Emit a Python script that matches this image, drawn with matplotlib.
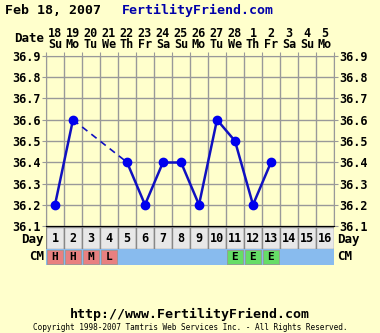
import numpy as np
import matplotlib
matplotlib.use("Agg")
import matplotlib.pyplot as plt

dates = ["18", "19", "20", "21", "22", "23", "24", "25", "26", "27", "28", "1", "2", "3", "4", "5"]
weekdays = ["Su", "Mo", "Tu", "We", "Th", "Fr", "Sa", "Su", "Mo", "Tu", "We", "Th", "Fr", "Sa", "Su", "Mo"]
days = list(range(1, 17))
temps = [36.2, 36.6, None, None, 36.4, 36.2, 36.4, 36.4, 36.2, 36.6, 36.5, 36.2, 36.4, None, None, None]
cm = ["H", "H", "M", "L", "", "", "", "", "", "", "E", "E", "E", "", "", ""]
yticks = [36.1, 36.2, 36.3, 36.4, 36.5, 36.6, 36.7, 36.8, 36.9]

bg = "#FFFFCC"
line_c = "#1010C0"
cm_colors = {"H": "#E88080", "M": "#E88080", "L": "#E88080", "E": "#66DD66", "": "#88BBEE"}
font = "DejaVu Sans Mono"

W, H = 380, 333
fig = plt.figure(figsize=(W / 100, H / 100), dpi=100, facecolor=bg)

def box(x0, y0, x1, y1):
    # pixel box -> figure coords
    return [x0 / W, 1 - y1 / H, (x1 - x0) / W, (y1 - y0) / H]

x0, x1 = 46, 334
ax = fig.add_axes(box(x0, 56, x1, 226))
ax.set_facecolor(bg)
ax.set_xlim(0.5, 16.5)
ax.set_ylim(36.1, 36.9)
ax.set_xticks(np.arange(0.5, 16.6, 1))
ax.set_yticks(yticks)
ax.grid(True, color="#999999", lw=1)
ax.tick_params(length=3, color="#999999", labelleft=True, labelright=True,
               left=True, right=True, labelbottom=False, top=True, bottom=False,
               labelsize=8.5, pad=1)
ax.set_yticklabels(["%.1f" % v for v in yticks], fontfamily=font, fontweight="bold")
for s in ax.spines.values():
    s.set_color("#999999")
ax.spines["bottom"].set_color("black")

# solid segments between consecutive readings, dashed over gaps
pts = [(d, t) for d, t in zip(days, temps) if t is not None]
for (da, ta), (db, tb) in zip(pts[:-1], pts[1:]):
    ls = "-" if db - da == 1 else (0, (4, 3))
    ax.plot([da, db], [ta, tb], color=line_c, lw=1.8 if ls == "-" else 1.2, linestyle=ls, zorder=3)
ax.plot([p[0] for p in pts], [p[1] for p in pts], "o", color="#0000EE", ms=6, zorder=4)

# date / weekday header
for d, dt, wd in zip(days, dates, weekdays):
    ax.text(d, 36.9 + 0.108, dt, ha="center", va="center", fontsize=8.5, fontfamily=font,
            fontweight="bold", clip_on=False)
    ax.text(d, 36.9 + 0.052, wd, ha="center", va="center", fontsize=8.5, fontfamily=font,
            fontweight="bold", clip_on=False)
fig.text(44 / W, 1 - 39 / H, "Date", ha="right", va="center", fontsize=9,
         fontfamily=font, fontweight="bold")

# day row
axd = fig.add_axes(box(x0, 227, x1, 249))
axd.set_xlim(0.5, 16.5)
axd.set_ylim(0, 1)
axd.bar(days, [1] * 16, width=1, color="#E8E8E8", edgecolor="#888888", lw=1)
for d in days:
    axd.text(d, 0.5, str(d), ha="center", va="center", fontsize=8.5, fontfamily=font, fontweight="bold")
axd.axis("off")

# CM row
axc = fig.add_axes(box(x0, 249, x1, 265))
axc.set_xlim(0.5, 16.5)
axc.set_ylim(0, 1)
axc.bar(days, [1] * 16, width=1, color=[cm_colors[c] for c in cm], edgecolor="#88BBEE", lw=1)
for d, c in zip(days, cm):
    if c:
        axc.bar(d, 0.84, bottom=0.08, width=0.84, color=cm_colors[c], edgecolor="#999999", lw=0.6)
        axc.text(d, 0.5, c, ha="center", va="center", fontsize=8, fontfamily=font, fontweight="bold")
axc.axis("off")

for label, y in [("Day", 239), ("CM", 257)]:
    fig.text(44 / W, 1 - y / H, label, ha="right", va="center", fontsize=9,
             fontfamily=font, fontweight="bold")
    fig.text(337 / W, 1 - y / H, label, ha="left", va="center", fontsize=9,
             fontfamily=font, fontweight="bold")

fig.text(5 / W, 1 - 10 / H, "Feb 18, 2007", ha="left", va="center", fontsize=9.5,
         fontfamily=font, fontweight="bold")
fig.text(122 / W, 1 - 10 / H, "FertilityFriend.com", ha="left", va="center", fontsize=9.5,
         fontfamily=font, fontweight="bold", color="#0000AA")
fig.text(190 / W, 1 - 314 / H, "http://www.FertilityFriend.com", ha="center", va="center",
         fontsize=9.5, fontfamily=font, fontweight="bold")
fig.text(190 / W, 1 - 327 / H, "Copyright 1998-2007 Tamtris Web Services Inc. - All Rights Reserved.",
         ha="center", va="center", fontsize=5.6, fontfamily=font)

fig.savefig("out.png", dpi=100, facecolor=bg)
